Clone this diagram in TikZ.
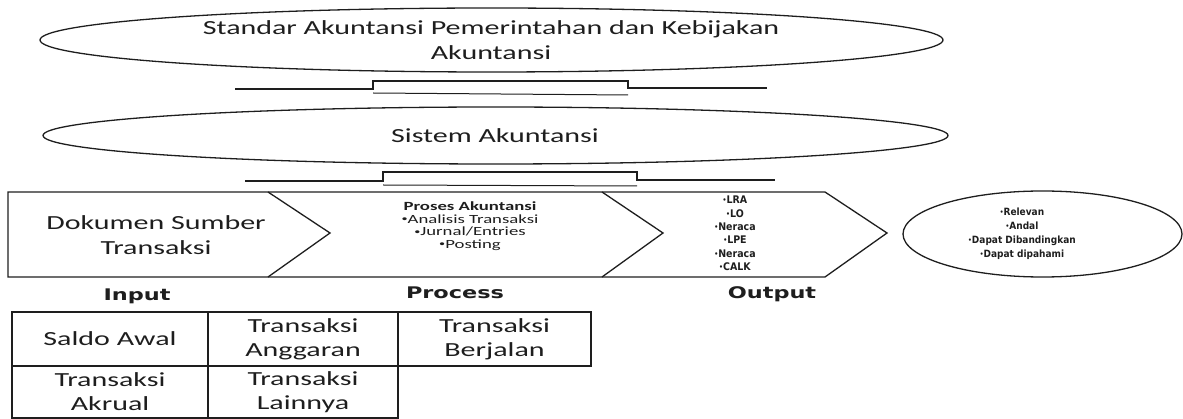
\documentclass[tikz,border=0pt]{standalone}
\usepackage{fontspec}
\setmainfont{Carlito}
\newfontfamily\wide[FakeStretch=1.5]{Carlito}
\newfontfamily\lab[FakeStretch=1.4]{DejaVu Sans}
\newfontfamily\tah[FakeStretch=0.9]{DejaVu Sans}
\usetikzlibrary{shapes.geometric}
\definecolor{ink}{HTML}{1E1E1E}
\newcommand\bul{\raisebox{0.2ex}{\scalebox{0.65}{\textbullet}}}
\tikzset{
  outline/.style={draw=ink, line width=1.3pt},
  bigtext/.style={font=\wide\fontsize{20}{25}\selectfont, align=center, inner sep=0pt, text=ink},
  proctext/.style={font=\wide\fontsize{12.5}{12.5}\selectfont, align=center, inner sep=0pt, text=ink},
  outtext/.style={font=\tah\bfseries\fontsize{10.5}{13.4}\selectfont, align=center, inner sep=0pt, text=ink},
  qualtext/.style={font=\tah\bfseries\fontsize{10}{14}\selectfont, align=center, inner sep=0pt, text=ink},
  labtext/.style={font=\lab\bfseries\fontsize{16}{16}\selectfont, inner sep=0pt, text=ink},
  cell/.style={outline, inner sep=0pt, font=\wide\fontsize{20}{24}\selectfont, align=center, text=ink},
  ell/.style={outline, ellipse, inner sep=0pt}
}
\begin{document}
\begin{tikzpicture}[x=1pt, y=-1pt]
\useasboundingbox (0,0) rectangle (1183,419);

% top ellipse
\node[ell, minimum width=903pt, minimum height=64pt] (sakE) at (491.5,40) {};
\node[bigtext] (sak) at (491,40) {Standar Akuntansi Pemerintahan dan Kebijakan\\Akuntansi};

% connector 1
\coordinate (c1a) at (235,89);
\coordinate (c1b) at (373,89);
\coordinate (c1c) at (373,81);
\coordinate (c1d) at (628,81);
\coordinate (c1e) at (628,88);
\coordinate (c1f) at (767,88);
\draw[outline] (c1a) -- (c1b) -- (c1c) -- (c1d) -- (c1e) -- (c1f);
\coordinate (c1g) at (373,93);
\coordinate (c1h) at (628,95);
\draw[outline, line width=1pt] (c1g) -- (c1h);

% second ellipse
\node[ell, minimum width=905pt, minimum height=57pt] (sisE) at (495.5,135.5) {};
\node[bigtext] (sis) at (495,136) {Sistem Akuntansi};

% connector 2
\coordinate (c2a) at (245,181);
\coordinate (c2b) at (383,181);
\coordinate (c2c) at (383,172);
\coordinate (c2d) at (637,172);
\coordinate (c2e) at (637,180);
\coordinate (c2f) at (775,180);
\draw[outline] (c2a) -- (c2b) -- (c2c) -- (c2d) -- (c2e) -- (c2f);
\coordinate (c2g) at (383,185);
\coordinate (c2h) at (637,186);
\draw[outline, line width=1pt] (c2g) -- (c2h);

% chevron row
\coordinate (r0t) at (8,192);
\coordinate (r0b) at (8,277);
\coordinate (r1t) at (268,192);
\coordinate (r1p) at (330,233);
\coordinate (r1b) at (268,277);
\coordinate (r2t) at (602,192);
\coordinate (r2p) at (663,233);
\coordinate (r2b) at (602,277);
\coordinate (r3t) at (825,192);
\coordinate (r3p) at (887,233);
\coordinate (r3b) at (825,277);
\draw[outline, line join=miter] (r0t) -- (r3t) -- (r3p) -- (r3b) -- (r0b) -- cycle;
\draw[outline] (r1t) -- (r1p) -- (r1b);
\draw[outline] (r2t) -- (r2p) -- (r2b);

\node[bigtext] (dok) at (156,235) {Dokumen Sumber\\Transaksi};
\node[proctext] (proc) at (470,226) {\bfseries Proses Akuntansi\\\bul Analisis Transaksi\\\bul Jurnal/Entries\\\bul Posting};
\node[outtext] (out) at (735,233.5) {\bul LRA\\\bul LO\\\bul Neraca\\\bul LPE\\\bul Neraca\\\bul CALK};

% quality ellipse
\node[ell, minimum width=279pt, minimum height=86pt] (qualE) at (1042.5,234) {};
\node[qualtext] (qual) at (1022,234) {\bul Relevan\\\bul Andal\\\bul Dapat Dibandingkan\\\bul Dapat dipahami};

% labels
\node[labtext] (lin) at (137,296) {Input};
\node[labtext] (lpr) at (455,293) {Process};
\node[labtext] (lout) at (772,294) {Output};

% table
\node[cell, minimum width=196pt, minimum height=54pt] (t11) at (110,339) {Saldo Awal};
\node[cell, minimum width=190pt, minimum height=54pt] (t12) at (303,339) {Transaksi\\Anggaran};
\node[cell, minimum width=193pt, minimum height=54pt] (t13) at (494.5,339) {Transaksi\\Berjalan};
\node[cell, minimum width=196pt, minimum height=52pt] (t21) at (110,392) {Transaksi\\Akrual};
\node[cell, minimum width=190pt, minimum height=52pt] (t22) at (303,392) {Transaksi\\Lainnya};
\end{tikzpicture}
\end{document}
